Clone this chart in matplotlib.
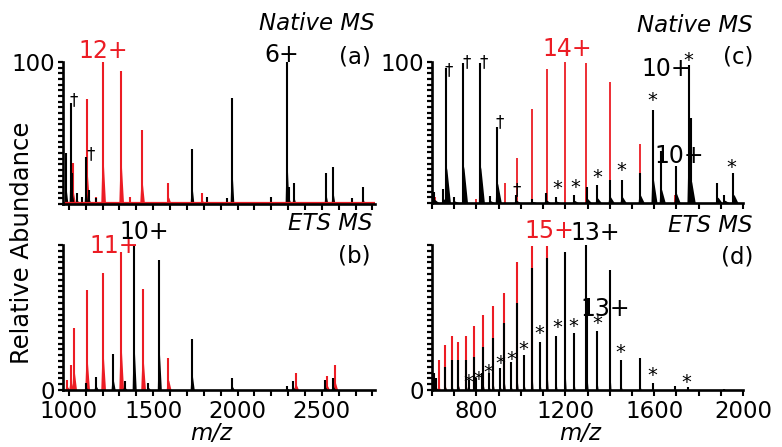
import matplotlib
matplotlib.use("Agg")
import matplotlib.pyplot as plt
from matplotlib.ticker import MultipleLocator, FixedLocator, NullFormatter

W, H = 782, 447
RED = "#ec1c24"
FS = 16.5

# ---- peak lists: (m/z, relative abundance) ----
a_black_mz = [983, 1012, 1020, 1050, 1075, 1101, 1120, 1160, 1730, 1818, 1937, 1967,
              2198, 2293, 2305, 2334, 2524, 2566, 2678, 2743]
a_black_h = [36, 71, 22, 8, 5, 33, 10, 4, 39, 5, 4, 75,
             5, 100, 12, 15, 22, 26, 4, 12]
a_red_mz = [1024, 1107, 1160, 1202, 1309, 1360, 1433, 1590, 1789]
a_red_h = [29, 74, 5, 100, 94, 5, 52, 15, 8]

b_black_mz = [1101, 1160, 1261, 1330, 1386, 1470, 1535, 1730, 1967, 2293, 2329, 2518, 2566]
b_black_h = [5, 9, 25, 6, 99, 5, 90, 35, 8, 3, 6, 7, 8]
b_red_mz = [989, 1012, 1030, 1107, 1202, 1309, 1439, 1590, 2346, 2530, 2578]
b_red_h = [7, 17, 43, 69, 81, 95, 70, 22, 12, 10, 17]

c_black_mz = [610, 650, 663, 700, 740, 816, 860, 892, 977, 1050, 1112, 1157, 1238, 1297,
              1342, 1400, 1454, 1535, 1593, 1630, 1697, 1755, 1765, 1885, 1916, 1957]
c_black_h = [8, 10, 96, 4, 99, 99, 5, 54, 6, 3, 7, 4, 6, 11,
             13, 16, 16, 21, 66, 37, 26, 98, 60, 14, 6, 21]
c_red_mz = [612, 700, 800, 928, 982, 1049, 1117, 1198, 1292, 1400, 1535, 1693]
c_red_h = [4, 3, 3, 14, 32, 67, 95, 100, 99, 86, 42, 6]

d_red_mz = [632, 659, 689, 718, 753, 789, 829, 874, 924, 982, 1049, 1117]
d_red_h = [21, 31, 37, 33, 37, 44, 52, 58, 67, 88, 99, 99.5]
d_black_mz = [608, 620, 659, 689, 718, 753, 789, 829, 874, 924, 982, 1049, 1117,
              1198, 1292, 1400, 1535, 1693, 1916]
d_black_h = [12, 8, 16, 21, 21, 21, 23, 30, 36, 46, 60, 84, 91,
             95, 100, 83, 22, 3, 1]
d_star_mz = [766, 797, 827, 857, 906, 955, 1014, 1085, 1157, 1238, 1297, 1342, 1450, 1593, 1751]
d_star_h = [7, 8, 12, 12, 15, 19, 24, 33, 37, 39, 62, 41, 21, 5, 2]

# ---- annotations ----
a_dagger = [(1030, 73), (1131, 35)]
c_dagger = [(676, 94), (757, 100), (834, 100), (906, 57), (982, 9)]
c_star = [(1162, 10), (1247, 11), (1342, 18), (1454, 23), (1593, 73), (1755, 101), (1948, 25)]
d_star = [(762, 5.5), (807, 7), (852, 12), (906, 18), (955, 21), (1013, 28), (1085, 39),
          (1162, 43), (1238, 44), (1342, 46), (1449, 26), (1593, 10), (1746, 5)]

fig = plt.figure(figsize=(W / 100, H / 100), dpi=100)


def box(x0, y0, x1, y1):
    return [x0 / W, 1 - y1 / H, (x1 - x0) / W, (y1 - y0) / H]


ax_a = fig.add_axes(box(63, 62, 375, 204))
ax_b = fig.add_axes(box(63, 245, 375, 390))
ax_c = fig.add_axes(box(432, 62, 743, 203))
ax_d = fig.add_axes(box(432, 245, 743, 390))


def peaks(ax, mz, h, color, wl, wr, f=0.35, lw=1.5, z=2):
    # thin line to the apex plus a narrow skirt at the foot of each peak
    for x, y in zip(mz, h):
        ax.fill([x - wl, x - 0.2 * wl, x + 0.3 * wr, x + wr],
                [0, f * y, 0.8 * f * y, 0], color=color, lw=0, zorder=z)
    ax.vlines(mz, 0, h, color=color, lw=lw, zorder=z)


def style(ax, xlim, xlabels, ylabel):
    ax.set_xlim(*xlim)
    ax.set_ylim(0, 100)
    for s in ("top", "right"):
        ax.spines[s].set_visible(False)
    for s in ("left", "bottom"):
        ax.spines[s].set_linewidth(1.9)
        ax.spines[s].set_zorder(5)
    ax.xaxis.set_major_locator(MultipleLocator(100))
    ax.tick_params(axis="x", direction="out", length=4.5, width=1.5, pad=3,
                   labelsize=FS)
    ax.yaxis.set_major_locator(FixedLocator([ylabel]))
    ax.yaxis.set_minor_locator(MultipleLocator(4))
    ax.tick_params(axis="y", which="both", direction="out", length=3.5, width=1.6,
                   pad=2, labelsize=FS)
    ax.set_yticklabels([str(ylabel)])
    if xlabels is None:
        ax.xaxis.set_major_formatter(NullFormatter())
    else:
        ax.set_xticks(xlabels)
        ax.xaxis.set_minor_locator(MultipleLocator(100))
        ax.tick_params(axis="x", which="minor", direction="out", length=4.5, width=1.5)
        ax.set_xticklabels([str(v) for v in xlabels])
    ax.patch.set_alpha(0)


# (a) native MS, left
peaks(ax_a, a_red_mz, a_red_h, RED, 10, 18)
peaks(ax_a, a_black_mz, a_black_h, "black", 8, 14)
ax_a.plot([965, 2815], [0.8, 0.8], color=RED, lw=1.6, zorder=3)
style(ax_a, (965, 2815), None, 100)

# (b) ETS MS, left
peaks(ax_b, b_red_mz, b_red_h, RED, 10, 18)
peaks(ax_b, b_black_mz, b_black_h, "black", 8, 16)
style(ax_b, (965, 2815), [1000, 1500, 2000, 2500], 0)

# (c) native MS, right
peaks(ax_c, c_red_mz, c_red_h, RED, 1, 2, f=0.1, lw=1.3)
peaks(ax_c, c_black_mz, c_black_h, "black", 5, 22, f=0.3, z=3)
style(ax_c, (600, 2000), None, 100)

# (d) ETS MS, right
peaks(ax_d, d_red_mz, d_red_h, RED, 2, 6, f=0.2, lw=1.5)
peaks(ax_d, d_black_mz, d_black_h, "black", 3, 8, f=0.2, z=3)
peaks(ax_d, d_star_mz, d_star_h, "black", 3, 8, f=0.2, z=3)
style(ax_d, (600, 2000), [800, 1200, 1600, 2000], 0)

# charge state labels
charge = dict(fontsize=17, ha="center", va="center", clip_on=False)
ax_a.text(1202, 108, "12+", color=RED, **charge)
ax_a.text(2265, 105, "6+", color="black", **charge)
ax_b.text(1267, 99, "11+", color=RED, **charge)
ax_b.text(1445, 109, "10+", color="black", **charge)
ax_c.text(1207, 109, "14+", color=RED, **charge)
ax_c.text(1656, 95, "10+", color="black", **charge)
ax_c.text(1715, 33, "10+", color="black", **charge)
ax_d.text(1130, 110, "15+", color=RED, **charge)
ax_d.text(1333, 108, "13+", color="black", **charge)
ax_d.text(1378, 56, "13+", color="black", **charge)

for ax, marks, sym, size in ((ax_a, a_dagger, "\u2020", 12), (ax_c, c_dagger, "\u2020", 12),
                             (ax_c, c_star, "*", 14), (ax_d, d_star, "*", 14)):
    for x, y in marks:
        ax.text(x, y, sym, fontsize=size, ha="center", va="center", zorder=6, clip_on=False)


def ftext(x, y, s, **kw):
    fig.text(x / W, 1 - y / H, s, **kw)


ftext(375, 24, "Native MS", fontsize=FS, style="italic", ha="right", va="center")
ftext(371, 57, "(a)", fontsize=FS, ha="right", va="center")
ftext(373, 224, "ETS MS", fontsize=FS, style="italic", ha="right", va="center")
ftext(371, 256, "(b)", fontsize=FS, ha="right", va="center")
ftext(753, 25, "Native MS", fontsize=FS, style="italic", ha="right", va="center")
ftext(753, 57, "(c)", fontsize=FS, ha="right", va="center")
ftext(753, 225, "ETS MS", fontsize=FS, style="italic", ha="right", va="center")
ftext(753, 257, "(d)", fontsize=FS, ha="right", va="center")
ftext(211, 434, "m/z", fontsize=FS, style="italic", ha="center", va="center")
ftext(580, 433, "m/z", fontsize=FS, style="italic", ha="center", va="center")
ftext(22, 243, "Relative Abundance", fontsize=17.5, rotation=90, ha="center", va="center")

fig.savefig("out.png", dpi=100)
